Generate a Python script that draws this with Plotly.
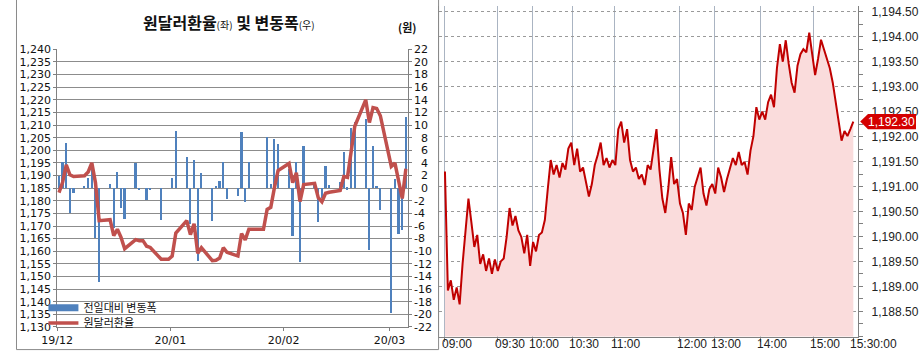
import plotly.graph_objects as go

# ---------------- left panel: daily USD/KRW and daily change ----------------
dates = [
    "2019-12-02", "2019-12-03", "2019-12-04", "2019-12-05", "2019-12-06",
    "2019-12-09", "2019-12-10", "2019-12-11", "2019-12-12", "2019-12-13",
    "2019-12-16", "2019-12-17", "2019-12-18", "2019-12-19", "2019-12-20",
    "2019-12-23", "2019-12-24", "2019-12-25", "2019-12-26", "2019-12-27",
    "2019-12-30", "2019-12-31",
    "2020-01-01", "2020-01-02", "2020-01-03",
    "2020-01-06", "2020-01-07", "2020-01-08", "2020-01-09", "2020-01-10",
    "2020-01-13", "2020-01-14", "2020-01-15", "2020-01-16", "2020-01-17",
    "2020-01-20", "2020-01-21", "2020-01-22", "2020-01-23", "2020-01-24",
    "2020-01-27", "2020-01-28", "2020-01-29", "2020-01-30", "2020-01-31",
    "2020-02-03", "2020-02-04", "2020-02-05", "2020-02-06", "2020-02-07",
    "2020-02-10", "2020-02-11", "2020-02-12", "2020-02-13", "2020-02-14",
    "2020-02-17", "2020-02-18", "2020-02-19", "2020-02-20", "2020-02-21",
    "2020-02-24", "2020-02-25", "2020-02-26", "2020-02-27", "2020-02-28",
    "2020-03-02", "2020-03-03", "2020-03-04", "2020-03-05", "2020-03-06",
]
usdkrw = [
    1183.2, 1187.3, 1194.2, 1190.3, 1189.6, 1189.9, 1191.4, 1195.0, 1187.1, 1172.1,
    1172.5, 1166.2, 1168.7, 1165.5, 1161.0, 1164.6, 1164.2, 1164.2, 1162.0, 1161.5,
    1156.8, 1156.8,
    1156.8, 1158.1, 1167.2, 1172.1, 1166.6, 1170.9, 1159.2, 1161.4, 1156.3, 1156.4,
    1157.3, 1161.4, 1159.6, 1158.1, 1167.0, 1164.5, 1168.7, 1168.7, 1168.7, 1176.6,
    1177.4, 1185.2, 1192.0,
    1194.8, 1187.2, 1191.1, 1179.7, 1186.4, 1186.9, 1181.2, 1179.6, 1183.0, 1183.4,
    1184.1, 1189.6, 1189.3, 1198.8, 1209.5, 1220.0, 1211.0, 1216.9, 1216.6, 1213.7,
    1193.6, 1194.9, 1187.5, 1180.9, 1192.7,
]
daily_change = [
    1.9, 4.1, 7.1, -4.0, -0.8, 0.35, 1.5, 3.6, -7.9, -15.0,
    0.6, -6.3, 2.5, -3.2, -5.0, 3.9, -0.4, 0.0, -1.9, -0.4,
    -5.1, 0.0,
    0.0, 1.6, 9.0, 4.9, -5.8, 4.4, -11.6, 2.3, -5.2, 0.2,
    1.0, 4.1, -1.8, -1.3, 8.9, -2.3, 4.1, 0.0, 0.0, 8.0,
    0.6, 7.7, 6.9,
    2.9, -7.6, 4.1, -11.7, 6.7, 0.5, -5.5, -1.6, 3.4, 0.4,
    0.9, 5.7, -0.3, 9.5, 10.5, 10.9, -9.9, 6.6, 0.3, -3.5,
    -19.9, 1.4, -7.4, -6.7, 11.2,
]
month_ticks = ["2019-12-01 12:00", "2020-01-01 12:00", "2020-02-01 12:00", "2020-03-01 12:00"]
month_labels = ["19/12", "20/01", "20/02", "20/03"]
rate_ticks = list(range(1130, 1241, 5))
change_ticks = list(range(-22, 23, 2))

# ---------------- right panel: intraday ticks ----------------
intraday = [
    1191.30, 1188.92, 1189.12, 1188.73, 1188.98, 1188.64, 1189.45, 1190.18, 1190.76, 1190.28,
    1189.79, 1190.03, 1189.45, 1189.64, 1189.31, 1189.56, 1189.25, 1189.54, 1189.31, 1189.50,
    1189.56, 1189.99, 1190.57, 1190.22, 1190.41, 1190.12, 1189.99, 1189.66, 1190.03, 1189.41,
    1189.89, 1189.70, 1190.03, 1190.08, 1190.33, 1190.95, 1191.53, 1191.24, 1191.43, 1191.18,
    1191.47, 1191.34, 1191.76, 1191.88, 1191.43, 1191.76, 1191.30, 1191.38, 1191.11, 1190.80,
    1191.05, 1191.43, 1191.63, 1191.88, 1191.43, 1191.57, 1191.38, 1191.53, 1191.43, 1192.15,
    1192.30, 1191.88, 1192.15, 1191.53, 1191.30, 1191.38, 1191.15, 1191.24, 1191.03, 1191.43,
    1191.34, 1191.72, 1192.15, 1191.34, 1190.76, 1190.47, 1190.95, 1191.59, 1191.05, 1191.15,
    1190.66, 1190.47, 1190.03, 1190.66, 1190.53, 1190.99, 1191.18, 1191.38, 1190.86, 1190.62,
    1190.95, 1191.05, 1190.86, 1191.38, 1191.18, 1190.89, 1191.15, 1191.34, 1191.57, 1191.43,
    1191.69, 1191.43, 1191.49, 1191.24, 1191.72, 1192.01, 1192.59, 1192.34, 1192.50, 1192.34,
    1192.69, 1192.84, 1192.59, 1193.37, 1193.85, 1193.50, 1193.93, 1193.46, 1193.08, 1192.88,
    1193.42, 1193.65, 1193.75, 1193.69, 1194.08, 1193.65, 1193.23, 1193.56, 1193.94, 1193.75,
    1193.56, 1193.37, 1193.08, 1192.69, 1192.30, 1191.92, 1192.11, 1192.01, 1192.15, 1192.30,
]
time_tick_idx = [0, 18, 29.7, 43.3, 57.7, 80, 91.7, 107.3, 125.3]
time_tick_txt = ["09:00", "09:30", "10:00", "10:30", "11:00", "12:00", "13:00", "14:00", "15:00"]
close_tick_txt = "15:30:00"
price_ticks = [1188.5 + 0.5 * k for k in range(13)]

W, H = 919, 359
BLUE = "#4f81bd"
RED = "#c0504d"
NUM_FONT = dict(family="DejaVu Sans", size=11, color="#111")
KR = "Noto Sans CJK KR"

def fx(p):
    return p / W

def fy(p):
    return 1 - p / H

fig = go.Figure()

# legend proxy for the bar series (wide flat swatch)
fig.add_trace(go.Scatter(x=[None], y=[None], mode="lines", name="전일대비 변동폭",
                         line=dict(color=BLUE, width=7), xaxis="x", yaxis="y",
                         legend="legend"))
fig.add_trace(go.Bar(x=dates, y=daily_change, marker_color=BLUE, marker_line_width=0,
                     width=0.6 * 86400000, showlegend=False, xaxis="x", yaxis="y"))
fig.add_trace(go.Scatter(x=dates, y=usdkrw, mode="lines", name="원달러환율",
                         line=dict(color=RED, width=3.5), xaxis="x", yaxis="y2",
                         legend="legend2"))

xi = list(range(len(intraday)))
fig.add_trace(go.Scatter(x=xi, y=intraday, mode="lines", fill="tozeroy",
                         fillcolor="#fadcdc", line=dict(color="#c00000", width=2),
                         showlegend=False, xaxis="x2", yaxis="y3"))

change_text = [("\u2007" + str(v)) if 0 <= v < 10 else str(v) for v in change_ticks]

legend_common = dict(xanchor="left", yanchor="middle", bgcolor="rgba(0,0,0,0)",
                     font=dict(family=KR, size=11, color="#111"), itemwidth=30)

fig.update_layout(
    width=W, height=H, margin=dict(l=0, r=0, t=0, b=0),
    paper_bgcolor="white", plot_bgcolor="white",
    bargap=0,
    xaxis=dict(domain=[fx(42), fx(400)], type="date",
               range=["2019-12-01 12:00", "2020-03-06 12:00"],
               tickmode="array", tickvals=month_ticks, ticktext=month_labels,
               ticks="outside", ticklen=3, tickcolor="#808080",
               showline=True, linecolor="#808080", showgrid=False,
               tickfont=NUM_FONT, anchor="y"),
    yaxis=dict(domain=[fy(333), fy(45)], range=[-22, 22], side="right",
               tickmode="array", tickvals=change_ticks, ticktext=change_text,
               showgrid=False, zeroline=False, showline=True, linecolor="#808080",
               ticks="outside", ticklen=3, tickcolor="#808080",
               tickfont=NUM_FONT, anchor="x"),
    yaxis2=dict(overlaying="y", side="left", range=[1130, 1240],
                tickmode="array", tickvals=rate_ticks, tickformat=",d",
                showgrid=True, gridcolor="#8c8c8c", gridwidth=1, zeroline=False,
                showline=True, linecolor="#808080",
                ticks="outside", ticklen=3, tickcolor="#808080",
                tickfont=NUM_FONT, anchor="x"),
    xaxis2=dict(domain=[fx(432), fx(860)], range=[-2, (860 - 438) / 3],
                tickmode="array", tickvals=time_tick_idx, showticklabels=False,
                ticks="outside", ticklen=4, tickcolor="#808080",
                showgrid=True, gridcolor="#aab4c2", gridwidth=1, zeroline=False,
                showline=True, linecolor="#808080",
                minor=dict(tickmode="array", tickvals=[len(intraday) - 1],
                           ticks="outside", ticklen=4, tickcolor="#808080", showgrid=False),
                anchor="y3"),
    yaxis3=dict(domain=[fy(343), 1], range=[1194.616 - 343 / 51.8, 1194.616], side="right",
                tickmode="array", tickvals=price_ticks, tickformat=",.2f",
                showgrid=True, gridcolor="#9a9a9a", griddash="dot", gridwidth=1,
                zeroline=False, showline=True, mirror=True, linecolor="#808080",
                ticks="outside", ticklen=4, tickcolor="#808080",
                minor=dict(tickmode="linear", tick0=1188.0, dtick=0.25,
                           ticks="outside", ticklen=4, tickcolor="#808080", showgrid=False),
                ticklabelstandoff=6,
                tickfont=dict(family="Liberation Sans", size=12, color="#222"),
                anchor="x2"),
    legend=dict(x=fx(28), y=fy(313), **legend_common),
    legend2=dict(x=fx(28), y=fy(329), **legend_common),
    showlegend=True,
)

# left panel frame
fig.add_shape(type="rect", xref="paper", yref="paper", x0=fx(0.5), x1=fx(431.5),
              y0=fy(356.5), y1=1.05, line=dict(color="#8a8a8a", width=1), layer="above")

# title and unit
fig.add_annotation(xref="paper", yref="paper", x=fx(218), y=fy(17), showarrow=False,
                   xanchor="center", yanchor="middle",
                   text="<b>원달러환율</b><span style='font-size:10px'>(좌)</span><b> 및 변동폭</b><span style='font-size:10px'>(우)</span>",
                   font=dict(family=KR, size=16, color="#111"))
fig.add_annotation(xref="paper", yref="paper", x=fx(399), y=fy(22), showarrow=False,
                   xanchor="center", yanchor="middle", text="<b>(원)</b>",
                   font=dict(family=KR, size=11, color="#111"))

# right panel time labels (left-aligned at each tick)
for tv, tt in zip(time_tick_idx + [len(intraday) - 1], time_tick_txt + [close_tick_txt]):
    fig.add_annotation(xref="x2", yref="paper", x=tv, y=fy(351), showarrow=False,
                       xanchor="left", yanchor="middle", xshift=-5, text=tt,
                       font=dict(family="Liberation Sans", size=12, color="#222"))

# last price marker
last = intraday[-1]
h = 8 / 51.8
fig.add_shape(type="path", xref="paper", yref="y3", layer="above",
              path=f"M {fx(862)},{last} L {fx(870)},{last + h} L 1,{last + h} L 1,{last - h} L {fx(870)},{last - h} Z",
              fillcolor="#d40000", line=dict(width=0))
fig.add_annotation(xref="paper", yref="y3", x=fx(894), y=last, showarrow=False,
                   xanchor="center", yanchor="middle", text=f"{last:,.2f}",
                   font=dict(family="Liberation Sans", size=12, color="white"))

fig.write_html("out.html")
